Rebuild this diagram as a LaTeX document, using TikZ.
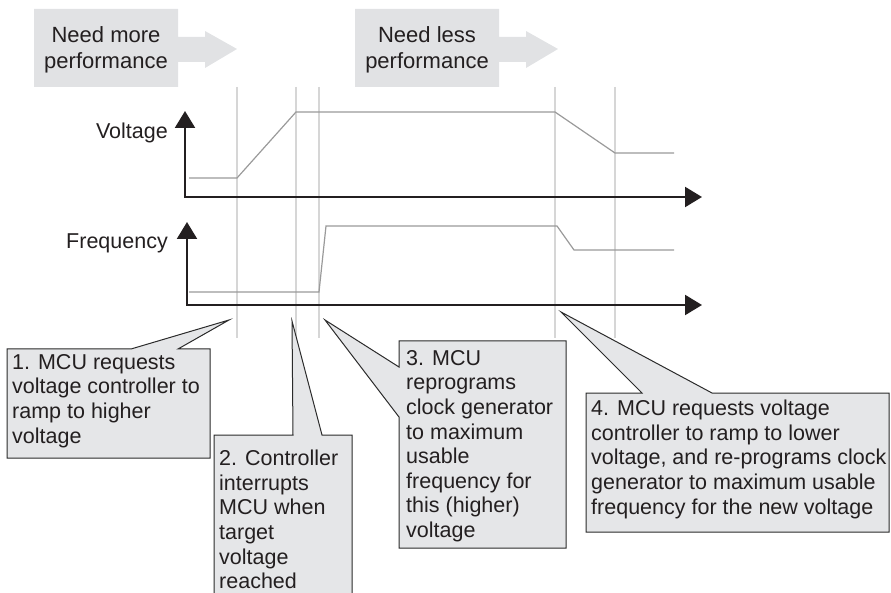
\documentclass[tikz,border=0pt]{standalone}
\usepackage{fontspec}
\setmainfont{Liberation Sans}
\usetikzlibrary{arrows.meta}

\definecolor{bannergray}{HTML}{E1E2E4}
\definecolor{calloutgray}{HTML}{E5E6E8}
\definecolor{edgedark}{HTML}{2B2B2B}
\definecolor{axisdark}{HTML}{231F20}
\definecolor{tracegray}{HTML}{9A9A9A}
\definecolor{gridgray}{HTML}{D6D6D6}
\definecolor{inkdark}{HTML}{231F20}

\newcommand\notefont{\fontsize{21.5}{24.6}\selectfont}
\newcommand\bannerfont{\fontsize{22}{26}\selectfont}

\tikzset{
  gridline/.style={draw=gridgray, line width=1.2pt},
  banner/.style={fill=bannergray},
  bannertext/.style={align=center, inner sep=0pt, font=\bannerfont, text=inkdark},
  trace/.style={draw=tracegray, line width=1.2pt, line join=miter},
  axisline/.style={draw=axisdark, line width=2.2pt,
    {Triangle[length=17pt,width=20pt]}-{Triangle[length=17pt,width=20pt]}},
  axislabel/.style={anchor=base east, inner sep=0pt, font=\notefont, text=inkdark},
  callout/.style={fill=calloutgray, draw=edgedark, line width=1pt, line join=miter},
  calltext/.style={anchor=north west, inner sep=0pt, align=left, font=\notefont, text=inkdark},
}

\begin{document}
\begin{tikzpicture}[x=1pt, y=-1pt]
\clip (0,0) rectangle (891,593);
\useasboundingbox (0,0) rectangle (891,593);

% event markers on the time axis
\foreach \t in {237,296,319,555,615}
  \draw[gridline] (\t,87) -- (\t,338);

% phase banners with arrows
\fill[banner] (34,9) -- (178,9) -- (178,37) -- (205,37) -- (205,31) -- (237,49)
  -- (205,68) -- (205,62) -- (178,62) -- (178,87) -- (34,87) -- cycle;
\node[bannertext] (more) at (106,50) {Need more\\performance};
\fill[banner] (355,9) -- (499,9) -- (499,37) -- (526,37) -- (526,31) -- (558,49)
  -- (526,68) -- (526,62) -- (499,62) -- (499,87) -- (355,87) -- cycle;
\node[bannertext] (less) at (427,50) {Need less\\performance};

% voltage and frequency traces
\draw[trace] (189,178) -- (237,178) -- (296,112) -- (555,112) -- (615,153) -- (674,153);
\draw[trace] (189,292) -- (319,292) -- (326,226) -- (557,226) -- (574,250) -- (674,250);

% axes
\coordinate (vtop) at (185,111);
\coordinate (vorg) at (185,197);
\coordinate (vend) at (702,197);
\coordinate (ftop) at (187,222);
\coordinate (forg) at (187,305);
\coordinate (fend) at (702,305);
\draw[axisline] (vtop) -- (vorg) -- (vend);
\draw[axisline] (ftop) -- (forg) -- (fend);
\node[axislabel] (vlabel) at (168,139) {Voltage};
\node[axislabel] (flabel) at (168,249) {Frequency};

% callout 1
\coordinate (tip1) at (229,320);
\path[callout] (7,349) -- (131,349) -- (tip1) -- (178,349) -- (210,349)
  -- (210,458) -- (7,458) -- cycle;
\node[calltext] (note1) at (12,354)
  {1. MCU requests\\voltage controller to\\ramp to higher\\voltage};

% callout 2
\coordinate (tip2) at (292,321);
\path[callout] (214,435) -- (293,435) -- (tip2) -- (322,435) -- (352,435)
  -- (352,610) -- (214,610) -- cycle;
\node[calltext] (note2) at (219,450)
  {2. Controller\\interrupts\\MCU when\\target\\voltage\\reached};

% callout 3
\coordinate (tip3) at (325,320);
\path[callout] (399,341) -- (566,341) -- (566,548) -- (399,548)
  -- (399,417) -- (tip3) -- (399,367) -- cycle;
\node[calltext] (note3) at (406,350)
  {3. MCU\\reprograms\\clock generator\\to maximum\\usable\\frequency for\\this (higher)\\voltage};

% callout 4
\coordinate (tip4) at (561,312);
\path[callout] (586,393) -- (642,393) -- (tip4) -- (712,393) -- (889,393)
  -- (889,532) -- (586,532) -- cycle;
\node[calltext] (note4) at (591,400)
  {4. MCU requests voltage\\controller to ramp to lower\\voltage, and re-programs clock\\generator to maximum usable\\frequency for the new voltage};
\end{tikzpicture}
\end{document}
